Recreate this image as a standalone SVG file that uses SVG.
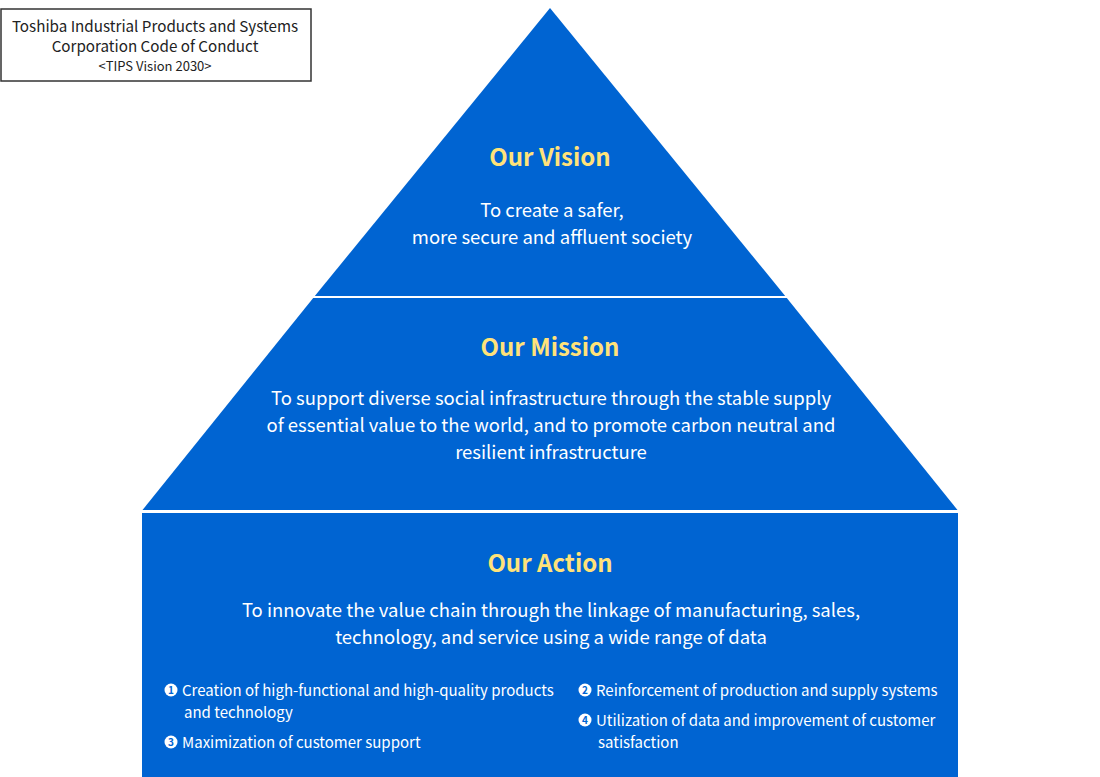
<svg xmlns="http://www.w3.org/2000/svg" width="1100" height="777" viewBox="0 0 1100 777">
<style>
.blk{fill:#0064d2}
.t{font-family:"Noto Sans CJK JP","Noto Sans",sans-serif;text-anchor:middle}
.h{font-size:24px;font-weight:bold;fill:#ffe27a}
.b{font-size:18.5px;fill:#ffffff}
.s{font-family:"Noto Sans CJK JP","Noto Sans",sans-serif;font-size:15px;fill:#ffffff}
.hd{font-family:"Noto Sans CJK JP","Noto Sans",sans-serif;text-anchor:middle;fill:#222}
.n{font-family:"Noto Sans CJK JP","Noto Sans",sans-serif;font-size:10px;font-weight:bold;fill:#0064d2;text-anchor:middle}
</style>
<rect width="1100" height="777" fill="#ffffff"/>
<g id="header">
<rect x="1" y="9" width="310" height="72" fill="#ffffff" stroke="#333333" stroke-width="1.5"/>
<text class="hd" x="155" y="31.5" font-size="15.2">Toshiba Industrial Products and Systems</text>
<text class="hd" x="155" y="51.5" font-size="15.2">Corporation Code of Conduct</text>
<text class="hd" x="155" y="71" font-size="13">&lt;TIPS Vision 2030&gt;</text>
</g>
<g id="vision">
<polygon class="blk" points="550,8 785.2,296 314.8,296"/>
<text class="t h" x="550" y="166">Our Vision</text>
<text class="t b" x="552" y="217">To create a safer,</text>
<text class="t b" x="552" y="244">more secure and affluent society</text>
</g>
<g id="mission">
<polygon class="blk" points="313.2,298 786.8,298 957.5,510 142.5,510"/>
<text class="t h" x="550" y="356">Our Mission</text>
<text class="t b" x="551" y="405">To support diverse social infrastructure through the stable supply</text>
<text class="t b" x="551" y="432">of essential value to the world, and to promote carbon neutral and</text>
<text class="t b" x="551" y="459">resilient infrastructure</text>
</g>
<g id="action">
<rect class="blk" x="142" y="513" width="816" height="264"/>
<text class="t h" x="550" y="572">Our Action</text>
<text class="t b" x="551" y="617">To innovate the value chain through the linkage of manufacturing, sales,</text>
<text class="t b" x="551" y="644">technology, and service using a wide range of data</text>
<circle cx="171" cy="690" r="6.5" fill="#ffffff"/><text class="n" x="171" y="693.5">1</text>
<text class="s" x="182" y="696">Creation of high-functional and high-quality products</text>
<text class="s" x="184" y="718">and technology</text>
<circle cx="171" cy="742" r="6.5" fill="#ffffff"/><text class="n" x="171" y="745.5">3</text>
<text class="s" x="182" y="748">Maximization of customer support</text>
<circle cx="585" cy="690" r="6.5" fill="#ffffff"/><text class="n" x="585" y="693.5">2</text>
<text class="s" x="596" y="696">Reinforcement of production and supply systems</text>
<circle cx="585" cy="720" r="6.5" fill="#ffffff"/><text class="n" x="585" y="723.5">4</text>
<text class="s" x="596" y="726">Utilization of data and improvement of customer</text>
<text class="s" x="598" y="748">satisfaction</text>
</g>
</svg>
